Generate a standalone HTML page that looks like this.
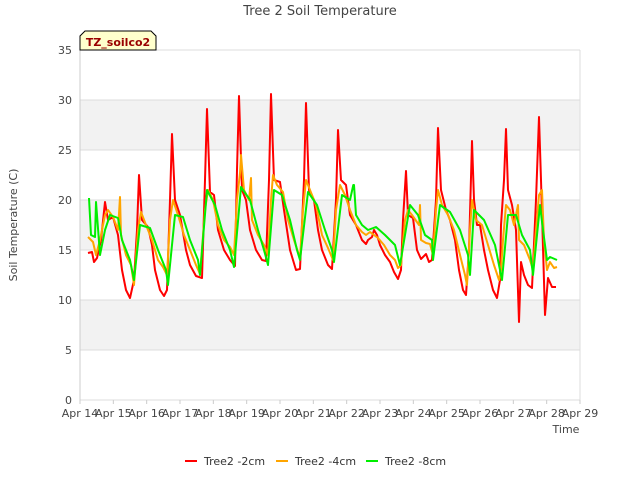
<!DOCTYPE html>
<html><head><meta charset="utf-8"><style>
body{margin:0;background:#fff;font-family:"Liberation Sans",sans-serif}
svg text{font-family:"DejaVu Sans","Liberation Sans",sans-serif}
</style></head><body>
<svg id="c" width="640" height="480">
<text x="320" y="15" text-anchor="middle" font-size="13" fill="#444">Tree 2 Soil Temperature</text>
<g id="plot"></g>
<text transform="translate(17,225) rotate(-90)" text-anchor="middle" font-size="11" fill="#444">Soil Temperature (C)</text>
<text x="566" y="433" text-anchor="middle" font-size="11" fill="#444">Time</text>
<g>
<path d="M80,50 L80,36 L85,31 L151,31 L156,36 L156,50 Z" fill="#ffffcc" stroke="#000" stroke-width="1"/>
<text x="118" y="46" text-anchor="middle" font-size="11" font-weight="bold" fill="#990000">TZ_soilco2</text>
</g>
<g id="legend"></g>
</svg>
<script>
const yTicks=[0,5,10,15,20,25,30,35];
const xLabels=["Apr 14","Apr 15","Apr 16","Apr 17","Apr 18","Apr 19","Apr 20","Apr 21","Apr 22","Apr 23","Apr 24","Apr 25","Apr 26","Apr 27","Apr 28","Apr 29"];
const seriesNames=["Tree2 -2cm","Tree2 -4cm","Tree2 -8cm"];
const seriesColors=["#ff0000","#ffa500","#00ee00"];
// time in days since Apr 14
const redT=[0.24,0.36,0.42,0.51,0.63,0.75,0.84,0.99,1.14,1.26,1.38,1.5,1.62,1.71,1.77,1.86,2.04,2.16,2.25,2.4,2.52,2.61,2.7,2.76,2.85,3.0,3.18,3.3,3.48,3.66,3.75,3.81,3.9,4.02,4.14,4.32,4.5,4.65,4.71,4.77,4.86,4.98,5.1,5.28,5.46,5.58,5.67,5.73,5.82,6.0,6.12,6.3,6.48,6.6,6.72,6.78,6.87,7.02,7.14,7.26,7.44,7.56,7.68,7.74,7.83,7.98,8.1,8.28,8.46,8.58,8.64,8.76,8.82,8.91,9.0,9.15,9.3,9.42,9.54,9.63,9.69,9.78,9.84,9.99,10.11,10.23,10.38,10.47,10.56,10.68,10.74,10.83,10.98,11.1,11.25,11.37,11.49,11.58,11.67,11.76,11.82,11.91,12.0,12.12,12.24,12.39,12.51,12.6,12.63,12.72,12.78,12.84,12.96,13.08,13.17,13.23,13.32,13.44,13.56,13.68,13.77,13.83,13.95,14.04,14.16,14.28];
const redV=[14.7,14.8,13.8,14.2,16,19.8,18,18.3,16.5,13,11,10.2,12,17,22.5,18,17.3,15.5,13,11,10.4,11,20,26.6,20,18.5,15,13.5,12.4,12.2,22,29.1,20.8,20.5,17,15,14,13.4,23,30.4,21,20,17,15,14,13.9,22,30.6,22,21.8,19,15,13,13.1,22,29.7,21,20,17,15,13.5,13.1,20,27,22,21.5,18.5,17.5,16,15.6,16,16.3,17,16.5,15.5,14.5,13.8,12.8,12.1,13,18,22.9,18.5,18.2,15,14.1,14.6,13.8,14,20,27.2,21,19,18,16,13,11,10.5,15,25.9,20,17.5,17.5,15,13,11,10.2,12,17.5,22,27.1,21,19.5,17,7.8,13.8,12.5,11.5,11.2,20,28.3,22,8.5,12.2,11.3,11.3];
const orangeT=[0.24,0.39,0.48,0.6,0.75,0.84,0.99,1.14,1.2,1.23,1.38,1.53,1.62,1.74,1.83,1.98,2.16,2.34,2.49,2.61,2.7,2.79,2.94,3.12,3.3,3.48,3.6,3.75,3.84,3.99,4.14,4.32,4.5,4.62,4.71,4.8,4.83,4.92,5.07,5.13,5.16,5.34,5.52,5.64,5.73,5.79,5.91,6.09,6.24,6.42,6.6,6.69,6.78,6.9,7.08,7.26,7.44,7.59,7.68,7.8,7.95,8.1,8.28,8.46,8.58,8.7,8.82,8.94,9.12,9.3,9.45,9.54,9.63,9.75,9.84,9.96,10.17,10.2,10.23,10.38,10.5,10.59,10.68,10.74,10.86,11.04,11.22,11.4,11.55,11.61,11.7,11.76,11.88,12.06,12.24,12.42,12.57,12.63,12.69,12.78,12.9,13.02,13.14,13.17,13.32,13.5,13.59,13.68,13.77,13.86,13.92,14.01,14.1,14.22,14.31];
const orangeV=[16.3,15.8,14.5,16,18.5,19,18.3,17,20.3,16.5,14.5,13.5,11.5,17,18.8,17.5,16,14,13.3,12.5,18,20,18.5,16.5,15,13.5,12.6,19,21,20,17.5,16,15.3,14.5,20,22.7,24.5,21,20,22.2,18,16.5,15.5,14.5,20,22.5,21.5,20.8,18,16,14.2,19,22,21,19.5,16.5,15.2,14,19,21.5,20.5,19,17.5,16.8,16.5,16.8,16.5,16.2,15.5,14.5,14,13.2,13.5,18,19,18.5,17.5,19.5,16,15.7,15.6,14.5,19,21,19.5,18.5,17,14.5,12.5,11.5,17,20,18,17.5,15.5,13.5,12,13,16,19.5,19,17.5,19.5,16,15.5,14,13,17,20.5,21,16,13,13.8,13.2,13.3];
const greenT=[0.27,0.33,0.45,0.48,0.6,0.75,0.9,1.14,1.26,1.5,1.62,1.8,2.1,2.34,2.58,2.64,2.85,3.09,3.3,3.54,3.6,3.81,4.05,4.26,4.5,4.62,4.83,5.1,5.34,5.52,5.64,5.82,6.06,6.3,6.51,6.6,6.84,7.11,7.35,7.56,7.62,7.86,8.1,8.2,8.22,8.28,8.46,8.64,8.88,9.15,9.45,9.6,9.9,10.14,10.35,10.56,10.59,10.8,11.1,11.4,11.64,11.7,11.82,12.12,12.45,12.6,12.66,12.84,13.08,13.26,13.5,13.59,13.8,13.89,14.01,14.1,14.31];
const greenV=[20.2,16.5,16.3,19.8,14.5,17,18.5,18.2,16,14,12,17.5,17.2,15,13,11.5,18.5,18.3,16,14,12.5,21,19.5,17,15,13.3,21.3,20,17,15,13.5,21,20.5,18,15,14,20.8,19.5,17,15,13.8,20.5,20,21.5,21.5,18.5,17.5,17,17.3,16.5,15.5,13.5,19.5,18.5,16.5,16,14,19.5,18.8,17,14.5,12.5,19,18,15.5,13,12,18.5,18.5,16.5,15,12.5,19.5,17,14,14.3,14];

const X0=80,X1=580,Y0=400,Y1=50,XMAX=15,YMAX=35;
const xs=d=>X0+d/XMAX*(X1-X0);
const ys=v=>Y0-v/YMAX*(Y0-Y1);
const NS="http://www.w3.org/2000/svg";
const plot=document.getElementById('plot');
function mk(tag,attrs,parent){const e=document.createElementNS(NS,tag);for(const k in attrs)e.setAttribute(k,attrs[k]);(parent||plot).appendChild(e);return e;}
// bands
for(let i=0;i<yTicks.length-1;i++){
  if(i%2===1){const r=mk('rect',{x:X0,y:ys(yTicks[i+1]),width:X1-X0,height:ys(yTicks[i])-ys(yTicks[i+1]),fill:'#f2f2f2'});
  
  }
}
yTicks.forEach(v=>{
  const l=mk('line',{x1:X0,x2:X1,y1:ys(v),y2:ys(v),stroke:'#dcdcdc','stroke-width':1});
  
  
  const t=mk('text',{x:X0-8,y:ys(v)+4,'text-anchor':'end','font-size':11,fill:'#444'});
  t.textContent=v;
  
  
});
mk('line',{x1:X0,x2:X0,y1:Y1,y2:Y0,stroke:'#ccc'});
mk('line',{x1:X1,x2:X1,y1:Y1,y2:Y0,stroke:'#ddd'});
xLabels.forEach((s,i)=>{
  mk('line',{x1:xs(i),x2:xs(i),y1:Y0,y2:Y0+4,stroke:'#ccc'});
  const t=mk('text',{x:xs(i),y:Y0+17,'text-anchor':'middle','font-size':11,fill:'#444'});
  t.textContent=s;
  
  
});
const series=[[redT,redV],[orangeT,orangeV],[greenT,greenV]];
series.forEach((s,k)=>{
  const d=s[0].map((t,i)=>(i?'L':'M')+xs(t).toFixed(1)+','+ys(s[1][i]).toFixed(1)).join('');
  const p=mk('path',{d:d,fill:'none',stroke:seriesColors[k],'stroke-width':2,'stroke-linejoin':'round'});
  
  
});
const lg=document.getElementById('legend');
const lx=[185,276,366];
seriesNames.forEach((n,k)=>{
  const g=mk('g',{},lg);
  
  
  mk('line',{x1:lx[k],x2:lx[k]+12,y1:461,y2:461,stroke:seriesColors[k],'stroke-width':2},g);
  const t=mk('text',{x:lx[k]+19,y:465,'font-size':11,fill:'#333'},g);
  t.textContent=n;
});
</script>
</body></html>
